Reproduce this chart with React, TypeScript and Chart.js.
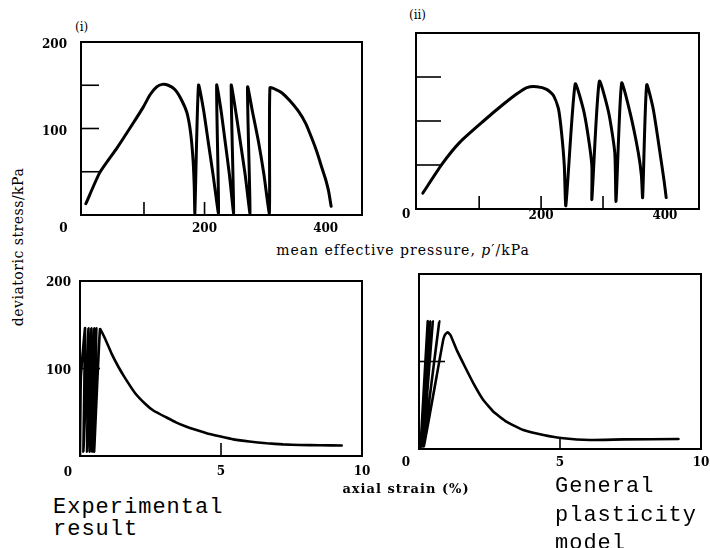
import React, { useEffect, useRef } from "react";
import { Chart, registerables } from "chart.js";

Chart.register(...registerables);

// ---------- DATA ----------
// (i) experimental stress path: mean effective pressure p' (kPa) vs deviatoric stress q (kPa)
const expPathP = [
  4, 27, 55, 82, 99, 110, 121, 130, 140, 151, 162, 171, 177, 181, 183, 184,
  190, 198, 206, 214, 223,
  220, 227, 234, 241, 248,
  244, 251, 259, 267, 275,
  271, 279, 289, 298, 307,
  308, 318, 328, 341, 355, 367, 377, 386, 394, 400, 405, 409,
];
const expPathQ = [
  13, 49, 77, 106, 125, 139, 148, 151, 150, 145, 133, 118, 95, 64, 33, 2,
  150, 123, 85, 47, 2,
  150, 122, 85, 47, 2,
  150, 122, 85, 47, 2,
  148, 120, 85, 47, 2,
  147, 145, 141, 132, 120, 106, 89, 72, 54, 41, 27, 10,
];

// (ii) general plasticity model stress path
const modelPathP = [
  9, 40, 69, 107, 139, 161, 177, 193, 209, 220, 228, 233, 237.5, 240,
  255, 268, 276, 282, 282,
  294, 309, 319, 321,
  330, 343.5, 357, 362, 364,
  370.5, 381, 392, 399, 402,
];
const modelPathQ = [
  18, 51, 76, 100, 119, 131, 138, 139, 136, 129, 114, 87, 49, 4,
  142, 114, 83, 49, 11,
  145, 110, 64, 9,
  143, 110, 64, 38, 13,
  141, 114, 64, 30, 13,
];

// experimental result: axial strain (%) vs deviatoric stress (kPa)
const expStrain = [
  0, 0.03, 0.18, 0.12, 0.3, 0.25, 0.4, 0.35, 0.5, 0.44, 0.58, 0.5, 0.71,
  0.89, 1.12, 1.36, 1.6, 1.95, 2.3, 2.6, 3.07, 3.4, 3.78, 4.1, 4.49, 4.95,
  5.44, 6.0, 6.62, 7.2, 7.8, 8.5, 9.28,
];
const expStress = [
  0, 90, 146, 5, 146, 5, 146, 5, 146, 5, 146, 5, 145,
  134, 117, 102, 89, 72, 60, 52, 44, 38.5, 33.5, 30, 26, 22.5,
  19, 16.5, 14.5, 13.3, 12.6, 12.2, 12,
];

// general plasticity model: axial strain (%) vs deviatoric stress (kPa)
const modelStrain = [
  0.05, 0.31, 0.1, 0.39, 0.12, 0.49, 0.15, 0.72, 0.17,
  0.86, 0.93, 1.02, 1.12, 1.34, 1.63, 1.93, 2.28, 2.64, 3.11, 3.7, 4.41,
  5.12, 6.06, 7.25, 9.2,
];
const modelStress = [
  0, 146, 3, 146, 3, 146, 3, 146, 3,
  125, 131, 133.5, 130, 113, 94, 75, 56, 42.6, 31, 21.7, 16,
  12.2, 10.3, 11, 11.4,
];

// tick labels and tick marks
const pressureLabels = [200, 400];
const pressureMarksExp = [100, 200];
const pressureMarksModel = [100, 200, 300];
const stressLabels = [100, 200];
const stressMarks = [50, 100, 150];
const strainLabels = [5, 10];
const strainMarks = [5];
const strainStressMarks = [100];

// ---------- CHART ----------
type PanelSpec = {
  xs: number[];
  ys: number[];
  xMin: number;
  xMax: number;
  xLabels: number[];
  yLabels: number[];
  xMarks: number[];
  yMarks: number[];
  xMarkLen: number;
  yMarkLen: number;
  yAxisW: number;
  xAxisH: number;
  padTop: number;
  padRight: number;
  xLabelPad: number;
  yLabelPad: number;
  yLabelOffset: number;
  zeroDx: number;
  zeroDy: number;
  lineWidth: number;
  tension: number;
};

const tickFont = { family: "'DejaVu Serif', serif", size: 12, weight: "bold" as const };

const framePlugin = {
  id: "frame",
  beforeDatasetsDraw(chart: any, _a: any, opts: any) {
    const { ctx, chartArea: a, scales } = chart;
    ctx.save();
    ctx.strokeStyle = "#000";
    ctx.lineWidth = 1.6;
    for (const v of opts.xMarks || []) {
      const x = scales.x.getPixelForValue(v);
      ctx.beginPath();
      ctx.moveTo(x, a.bottom);
      ctx.lineTo(x, a.bottom - opts.xMarkLen);
      ctx.stroke();
    }
    for (const v of opts.yMarks || []) {
      const y = scales.y.getPixelForValue(v);
      ctx.beginPath();
      ctx.moveTo(a.left, y);
      ctx.lineTo(a.left + opts.yMarkLen, y);
      ctx.stroke();
    }
    ctx.restore();
  },
  afterDatasetsDraw(chart: any, _a: any, opts: any) {
    const { ctx, chartArea: a, scales } = chart;
    ctx.save();
    ctx.strokeStyle = "#000";
    ctx.lineWidth = 2;
    ctx.strokeRect(a.left, a.top, a.right - a.left, a.bottom - a.top);
    // origin label at the corner
    ctx.fillStyle = "#000";
    ctx.font = "bold 12px 'DejaVu Serif', serif";
    ctx.textAlign = "center";
    ctx.textBaseline = "middle";
    const x0 = scales.x.getPixelForValue(0);
    ctx.fillText("0", x0 + opts.zeroDx, a.bottom + opts.zeroDy);
    ctx.restore();
  },
};

function Panel(props: { spec: PanelSpec; left: number; top: number; width: number; height: number }) {
  const ref = useRef<HTMLCanvasElement | null>(null);
  const { spec, left, top, width, height } = props;
  useEffect(() => {
    if (!ref.current) return;
    const s = spec;
    const chart = new Chart(ref.current, {
      type: "scatter",
      data: {
        datasets: [
          {
            data: s.xs.map((x, i) => ({ x, y: s.ys[i] })),
            showLine: true,
            borderColor: "#000",
            backgroundColor: "#000",
            borderWidth: s.lineWidth,
            borderJoinStyle: "round",
            borderCapStyle: "round",
            pointRadius: 0,
            tension: s.tension,
            fill: false,
          } as any,
        ],
      },
      options: {
        animation: false,
        responsive: false,
        maintainAspectRatio: false,
        devicePixelRatio: 1,
        layout: { padding: { top: s.padTop, right: s.padRight, left: 0, bottom: 0 }, autoPadding: false } as any,
        plugins: {
          legend: { display: false },
          tooltip: { enabled: false },
          frame: {
            xMarks: s.xMarks,
            yMarks: s.yMarks,
            xMarkLen: s.xMarkLen,
            yMarkLen: s.yMarkLen,
            zeroDx: s.zeroDx,
            zeroDy: s.zeroDy,
          },
        } as any,
        scales: {
          x: {
            type: "linear",
            min: s.xMin,
            max: s.xMax,
            grid: { display: false, drawTicks: false },
            border: { display: false },
            ticks: {
              display: s.xLabels.length > 0,
              color: "#000",
              font: tickFont,
              padding: s.xLabelPad,
              maxRotation: 0,
              autoSkip: false,
            },
            afterBuildTicks: (scale: any) => {
              scale.ticks = s.xLabels.map((v) => ({ value: v }));
            },
            afterFit: (scale: any) => {
              scale.height = s.xAxisH;
              scale.paddingLeft = 0;
              scale.paddingRight = 0;
              scale.paddingTop = 0;
              scale.paddingBottom = 0;
            },
          },
          y: {
            type: "linear",
            min: 0,
            max: 200,
            grid: { display: false, drawTicks: false },
            border: { display: false },
            ticks: {
              display: s.yLabels.length > 0,
              color: "#000",
              font: tickFont,
              padding: s.yLabelPad,
              labelOffset: s.yLabelOffset,
              autoSkip: false,
            },
            afterBuildTicks: (scale: any) => {
              scale.ticks = s.yLabels.map((v) => ({ value: v }));
            },
            afterFit: (scale: any) => {
              scale.width = s.yAxisW;
              scale.paddingLeft = 0;
              scale.paddingRight = 0;
              scale.paddingTop = 0;
              scale.paddingBottom = 0;
            },
          },
        },
      },
      plugins: [framePlugin],
    });
    return () => chart.destroy();
  }, []);
  return (
    <canvas
      ref={ref}
      width={width}
      height={height}
      style={{ position: "absolute", left, top, width, height }}
    />
  );
}

const specI: PanelSpec = {
  xs: expPathP, ys: expPathQ, xMin: -4, xMax: 460,
  xLabels: pressureLabels, yLabels: stressLabels,
  xMarks: pressureMarksExp, yMarks: stressMarks, xMarkLen: 13, yMarkLen: 18,
  yAxisW: 51, xAxisH: 25, padTop: 6, padRight: 8,
  xLabelPad: 7, yLabelPad: 14, yLabelOffset: 3, zeroDx: -20, zeroDy: 14, lineWidth: 3, tension: 0.2,
};
const specII: PanelSpec = {
  xs: modelPathP, ys: modelPathQ, xMin: -2, xMax: 455,
  xLabels: pressureLabels, yLabels: [],
  xMarks: pressureMarksModel, yMarks: stressMarks, xMarkLen: 13, yMarkLen: 25,
  yAxisW: 36, xAxisH: 16, padTop: 8, padRight: 11,
  xLabelPad: 0, yLabelPad: 0, yLabelOffset: 0, zeroDx: -11, zeroDy: 6, lineWidth: 3, tension: 0.2,
};
const specIII: PanelSpec = {
  xs: expStrain, ys: expStress, xMin: 0, xMax: 10,
  xLabels: strainLabels, yLabels: stressLabels,
  xMarks: strainMarks, yMarks: strainStressMarks, xMarkLen: 13, yMarkLen: 20,
  yAxisW: 50, xAxisH: 28, padTop: 9, padRight: 13,
  xLabelPad: 9, yLabelPad: 9, yLabelOffset: 2, zeroDx: -12, zeroDy: 17, lineWidth: 2.6, tension: 0.12,
};
const specIV: PanelSpec = {
  xs: modelStrain, ys: modelStress, xMin: 0, xMax: 10,
  xLabels: strainLabels, yLabels: [],
  xMarks: strainMarks, yMarks: strainStressMarks, xMarkLen: 11, yMarkLen: 26,
  yAxisW: 34, xAxisH: 27, padTop: 8, padRight: 9,
  xLabelPad: 7, yLabelPad: 0, yLabelOffset: 0, zeroDx: -13, zeroDy: 14, lineWidth: 2.6, tension: 0.12,
};

const serif = "'DejaVu Serif', serif";
const mono = "'Liberation Mono', 'Courier New', monospace";

export default function App() {
  return (
    <div
      style={{
        position: "fixed",
        left: 0,
        top: 0,
        width: 710,
        height: 548,
        background: "#fff",
        overflow: "hidden",
        color: "#000",
      }}
    >
      <Panel spec={specI} left={30} top={36} width={340} height={204} />
      <Panel spec={specII} left={380} top={25} width={330} height={200} />
      <Panel spec={specIII} left={30} top={272} width={345} height={212} />
      <Panel spec={specIV} left={385} top={266} width={325} height={210} />

      <div style={{ position: "absolute", left: 75, top: 20, font: `12px ${serif}` }}>(i)</div>
      <div style={{ position: "absolute", left: 409, top: 8, font: `12px ${serif}` }}>(ii)</div>

      <div
        style={{
          position: "absolute",
          left: 18,
          top: 247,
          transform: "translate(-50%, -50%) rotate(-90deg)",
          whiteSpace: "nowrap",
          font: `14px ${serif}`,
          letterSpacing: "0.5px",
        }}
      >
        deviatoric stress/kPa
      </div>
      <div
        style={{
          position: "absolute",
          left: 403,
          top: 250,
          transform: "translate(-50%, -50%)",
          whiteSpace: "nowrap",
          font: `14px ${serif}`,
          letterSpacing: "1px",
        }}
      >
        mean effective pressure, <i>p</i>′/kPa
      </div>
      <div
        style={{
          position: "absolute",
          left: 406,
          top: 488,
          transform: "translate(-50%, -50%)",
          whiteSpace: "nowrap",
          font: `bold 13px ${serif}`,
          letterSpacing: "1px",
        }}
      >
        axial strain (%)
      </div>
      <div
        style={{
          position: "absolute",
          left: 53,
          top: 497,
          font: `22px ${mono}`,
          lineHeight: "22px",
          letterSpacing: "1px",
          whiteSpace: "pre",
        }}
      >
        {"Experimental\nresult"}
      </div>
      <div
        style={{
          position: "absolute",
          left: 555,
          top: 473,
          font: `22px ${mono}`,
          lineHeight: "28.5px",
          letterSpacing: "1px",
          whiteSpace: "pre",
        }}
      >
        {"General\nplasticity\nmodel"}
      </div>
    </div>
  );
}
